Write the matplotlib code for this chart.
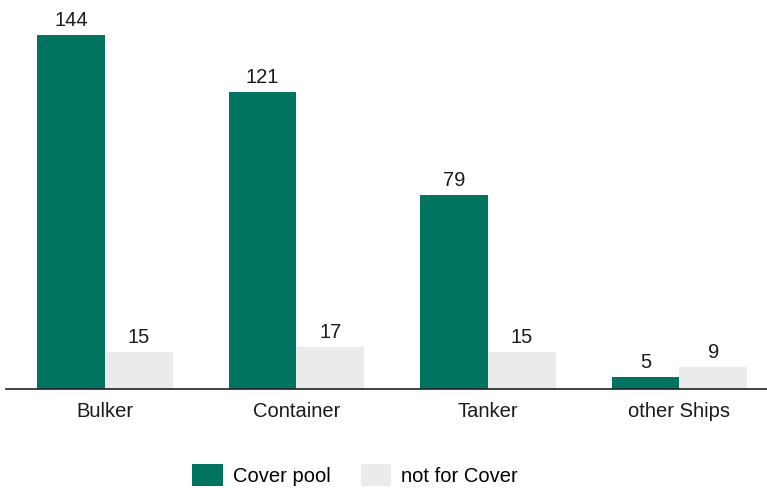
import matplotlib.pyplot as plt
import numpy as np

plt.rcParams['font.family'] = ['Liberation Sans', 'DejaVu Sans']

categories = ['Bulker', 'Container', 'Tanker', 'other Ships']
cover_pool = [144, 121, 79, 5]
not_cover = [15, 17, 15, 9]
series_names = ['Cover pool', 'not for Cover']

green = '#00745e'
grey = '#ebebeb'
fs = 14.5

fig = plt.figure(figsize=(7.67, 4.88), dpi=100)
ax = fig.add_axes([6 / 767, 99 / 488, 761 / 767, 389 / 488])

x = np.arange(len(categories))
w = 0.355
b1 = ax.bar(x - w / 2, cover_pool, w, color=green, label=series_names[0])
b2 = ax.bar(x + w / 2, not_cover, w, color=grey, label=series_names[1])

for bars in (b1, b2):
    for r in bars:
        ax.annotate(f'{int(r.get_height())}', (r.get_x() + r.get_width() / 2, r.get_height()),
                    xytext=(0, 3.5), textcoords='offset points', ha='center', va='bottom',
                    fontsize=fs, color='#1a1a1a')

ax.set_xlim(-0.517, 3.457)
ax.set_ylim(0, 158.3)
ax.set_xticks(x)
ax.set_xticklabels(categories, fontsize=fs, color='#1a1a1a')
ax.tick_params(axis='x', length=0, pad=9.5)
ax.set_yticks([])
for s in ['top', 'right', 'left']:
    ax.spines[s].set_visible(False)
ax.spines['bottom'].set_color('#222222')
ax.spines['bottom'].set_linewidth(1.2)

fig.legend(handles=[b1, b2], labels=series_names, loc='center', bbox_to_anchor=(355 / 767, 13 / 488),
           ncol=2, frameon=False, fontsize=fs, handlelength=1.5, handleheight=1.3,
           columnspacing=1.5, handletextpad=0.5, borderaxespad=0, borderpad=0.2)

fig.savefig('out.png', dpi=100)
